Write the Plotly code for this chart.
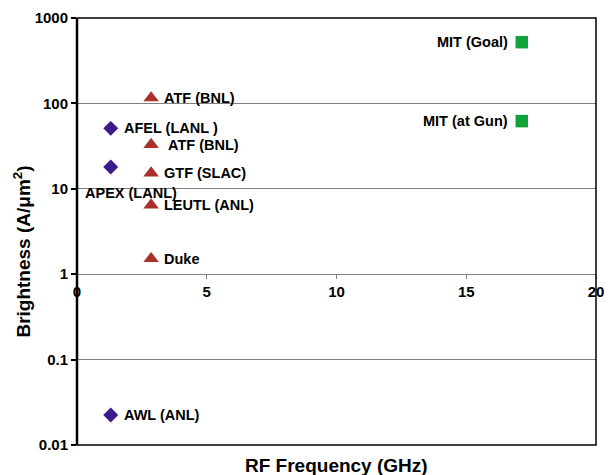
import math
import plotly.graph_objects as go

# Data
diamond_names = ["AFEL (LANL )", "APEX (LANL)", "AWL (ANL)"]
diamond_freq = [1.3, 1.3, 1.3]
diamond_bright = [51, 18, 0.0224]

triangle_names = ["ATF (BNL)", " ATF (BNL)", "GTF (SLAC)", "LEUTL (ANL)", "Duke"]
triangle_freq = [2.856, 2.856, 2.856, 2.856, 2.856]
triangle_bright = [116, 33, 15.3, 6.45, 1.52]

square_names = ["MIT (Goal)", "MIT (at Gun)"]
square_freq = [17.14, 17.14]
square_bright = [521, 62]

x_ticks = [0, 5, 10, 15, 20]
y_ticks = [0.01, 0.1, 1, 10, 100, 1000]
y_ticktext = ["0.01", "0.1", "1", "10", "100", "1000"]

FONT = "Liberation Sans, Arial, sans-serif"
C_DIA = "#3c1a8c"
C_TRI = "#a8322a"
C_SQ = "#10a33c"

fig = go.Figure()
fig.add_trace(go.Scatter(x=diamond_freq, y=diamond_bright, mode="markers",
                         marker=dict(symbol="diamond", size=11.5, color=C_DIA), showlegend=False))
fig.add_trace(go.Scatter(x=triangle_freq, y=triangle_bright, mode="markers",
                         marker=dict(symbol="triangle-up", size=13.5, color=C_TRI), showlegend=False))
fig.add_trace(go.Scatter(x=square_freq, y=square_bright, mode="markers",
                         marker=dict(symbol="square", size=12.5, color=C_SQ), showlegend=False))

lab_font = dict(family=FONT, size=14.5, color="black")


def bold(s):
    return "<b>%s</b>" % s.replace(" ", "&nbsp;") if s.startswith(" ") else "<b>%s</b>" % s


annotations = []
for n, x, y in zip(diamond_names, diamond_freq, diamond_bright):
    if n.startswith("APEX"):
        annotations.append(dict(x=x, y=math.log10(y), text=bold(n), showarrow=False,
                                xanchor="center", yanchor="middle", xshift=20, yshift=-26, font=lab_font))
    else:
        annotations.append(dict(x=x, y=math.log10(y), text=bold(n), showarrow=False,
                                xanchor="left", yanchor="middle", xshift=11, font=lab_font))
for n, x, y in zip(triangle_names, triangle_freq, triangle_bright):
    annotations.append(dict(x=x, y=math.log10(y), text=bold(n), showarrow=False,
                            xanchor="left", yanchor="middle", xshift=11, font=lab_font))
for n, x, y in zip(square_names, square_freq, square_bright):
    annotations.append(dict(x=x, y=math.log10(y), text=bold(n), showarrow=False,
                            xanchor="right", yanchor="middle", xshift=-12, font=lab_font))

# axis titles
annotations.append(dict(xref="paper", yref="paper", x=0.5, y=0, yshift=-20, text="<b>RF Frequency (GHz)</b>",
                        showarrow=False, xanchor="center", yanchor="middle",
                        font=dict(family=FONT, size=19, color="black")))
annotations.append(dict(xref="paper", yref="paper", x=0, y=0.453, xshift=-55,
                        text="<b>Brightness (A/μm<sup>2</sup>)</b>", textangle=-90,
                        showarrow=False, xanchor="center", yanchor="middle",
                        font=dict(family=FONT, size=19, color="black")))

fig.update_layout(
    width=613, height=475,
    margin=dict(l=77, r=9, t=17, b=30),
    paper_bgcolor="white", plot_bgcolor="white",
    font=dict(family=FONT, size=14, color="black"),
    annotations=annotations,
    xaxis=dict(range=[0, 20], tickvals=x_ticks, ticktext=["<b>%d</b>" % v for v in x_ticks],
               anchor="free", position=0.4, showgrid=False, zeroline=False, showline=False,
               ticks="outside", ticklen=4, tickcolor="#808080", tickwidth=1,
               tickfont=dict(family=FONT, size=15, color="black")),
    yaxis=dict(type="log", range=[-2, 3], tickvals=y_ticks,
               ticktext=["<b>%s</b>" % t for t in y_ticktext],
               showgrid=True, gridcolor="#808080", gridwidth=1, zeroline=False, showline=False,
               ticks="outside", ticklen=5, tickcolor="black", tickwidth=1.5,
               tickfont=dict(family=FONT, size=15, color="black")),
    shapes=[
        dict(type="rect", xref="paper", yref="paper", x0=0, x1=1, y0=0, y1=1,
             line=dict(color="black", width=1.5), layer="above"),
        dict(type="line", xref="paper", yref="paper", x0=0, x1=0, y0=0, y1=1,
             line=dict(color="black", width=2.5), layer="above"),
    ],
)

fig.write_html("out.html")
